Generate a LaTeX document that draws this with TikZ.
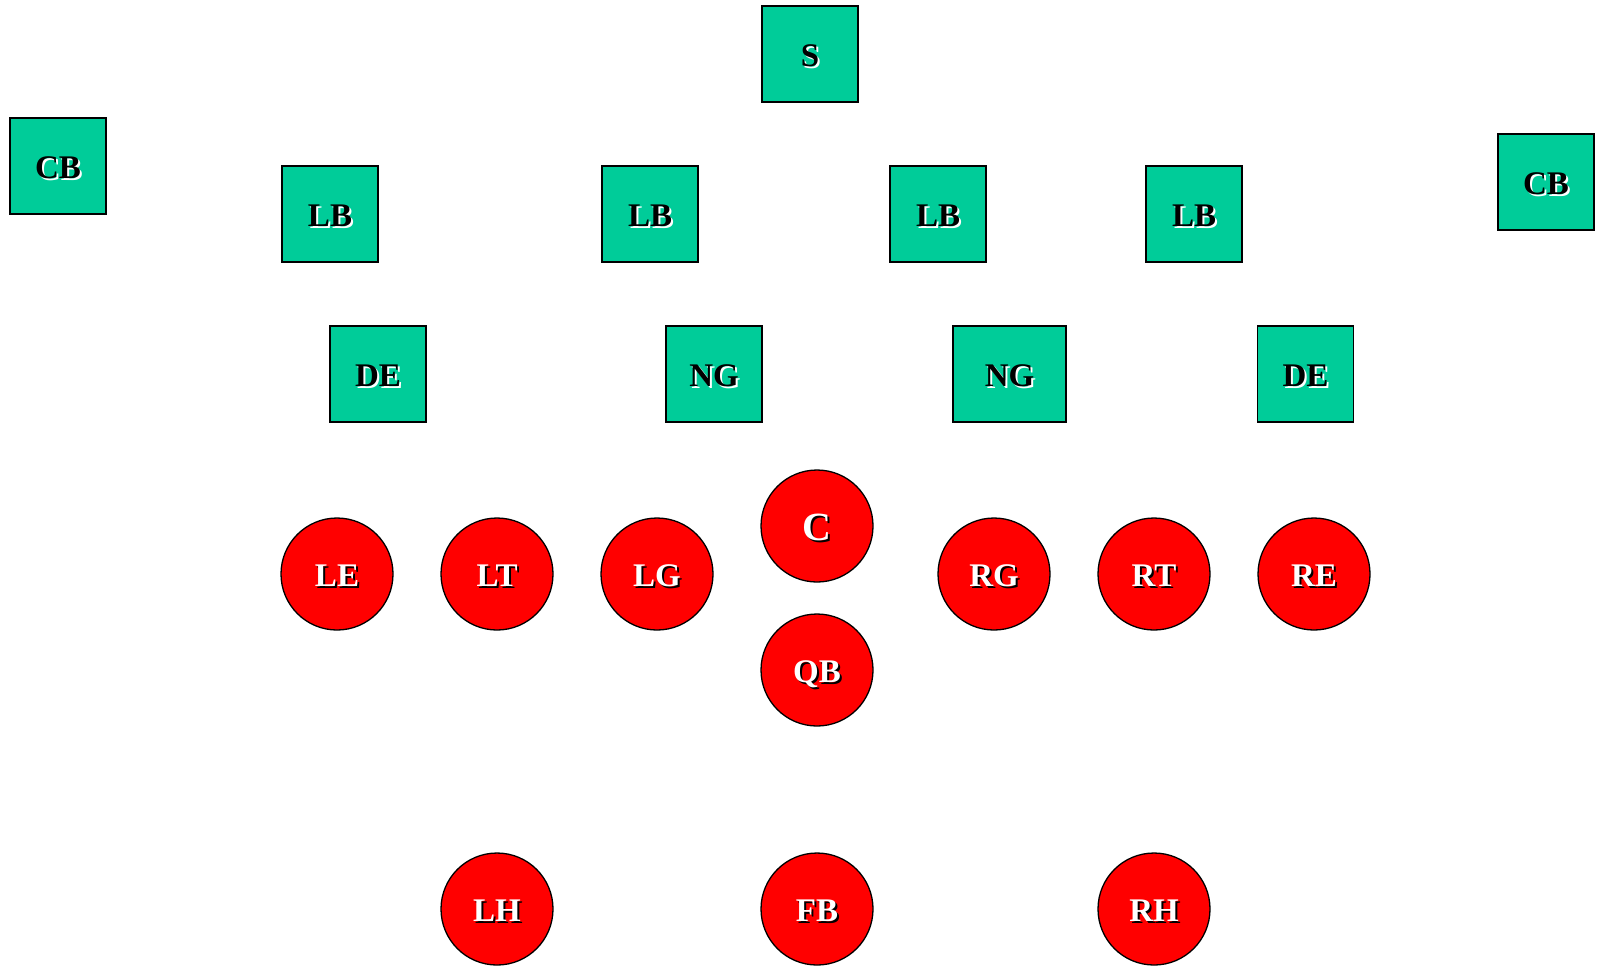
\documentclass[tikz,border=0pt]{standalone}
\usepackage{fontspec}
\setmainfont{Liberation Serif}
\definecolor{defgreen}{RGB}{0,204,153}
\definecolor{offred}{RGB}{255,0,0}
\newcommand{\shadowtext}[3]{\rlap{\kern1pt\raisebox{-1pt}{\textcolor{#2}{#3}}}\textcolor{#1}{#3}}
\tikzset{
  defbox/.style={draw=black, line width=0.65pt, fill=defgreen, minimum width=48pt, minimum height=48pt, inner sep=0pt, text height=12.3pt, text depth=0pt, font=\bfseries\fontsize{16.5}{18}\selectfont},
  offcirc/.style={circle, draw=black, line width=0.65pt, fill=offred, minimum size=56pt, inner sep=0pt, text height=12.3pt, text depth=0pt, font=\bfseries\fontsize{16.5}{18}\selectfont},
}
\begin{document}
\begin{tikzpicture}[x=0.5pt,y=-0.5pt]
\useasboundingbox (0,0) rectangle (1598,966);
% defense
\node[defbox] (s) at (810,54) {\shadowtext{black}{white}{S}};
\node[defbox] (cbl) at (58,166) {\shadowtext{black}{white}{CB}};
\node[defbox] (cbr) at (1546,182) {\shadowtext{black}{white}{CB}};
\foreach \x/\n in {330/1,650/2,938/3,1194/4}{ % linebackers
\node[defbox] (lb\n) at (\x,214) {\shadowtext{black}{white}{LB}};}
\node[defbox] (del) at (378,374) {\shadowtext{black}{white}{DE}};
\node[defbox] (ngl) at (714,374) {\shadowtext{black}{white}{NG}};
\node[defbox, minimum width=56.5pt] (ngr) at (1009.5,374) {\shadowtext{black}{white}{NG}};
\node[defbox] (der) at (1305.5,374) {\shadowtext{black}{white}{DE}};
% offense
\foreach \x/\n in {337/LE,497/LT,657/LG,994/RG,1154/RT,1314/RE}{ % line
\node[offcirc] (\n) at (\x,574) {\shadowtext{white}{black}{\n}};}
\node[offcirc, text height=14.5pt, font=\bfseries\fontsize{20}{22}\selectfont] (C) at (817,526) {\shadowtext{white}{black}{C}};
\node[offcirc] (QB) at (817,670) {\shadowtext{white}{black}{QB}};
\foreach \x/\n in {497/LH,817/FB,1154/RH}{ % backs
\node[offcirc] (\n) at (\x,909) {\shadowtext{white}{black}{\n}};}
\end{tikzpicture}
\end{document}
